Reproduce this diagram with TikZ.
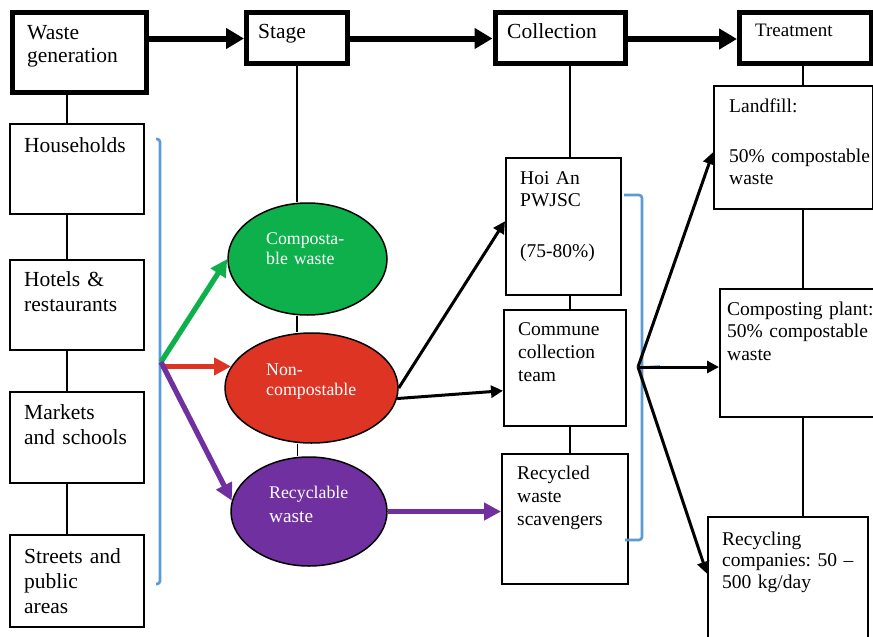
\documentclass[tikz,border=0pt]{standalone}
\usepackage{fontspec}
\setmainfont{Liberation Serif}
\usetikzlibrary{arrows.meta,shapes.geometric}
\definecolor{cgreen}{HTML}{0DB04B}
\definecolor{cred}{HTML}{DE3424}
\definecolor{cpurple}{HTML}{7030A0}
\definecolor{cblue}{HTML}{5B9BD5}
\frenchspacing
\begin{document}
\begin{tikzpicture}[x=1pt,y=-1pt,
  hbox/.style={draw, line width=5pt, inner sep=0pt, anchor=north west},
  tbox/.style={draw, line width=1.5pt, inner sep=0pt, anchor=north west},
  lbl/.style={anchor=base west, inner sep=0pt, align=left, text width=200pt},
  big/.style={font=\fontsize{21.5}{25}\selectfont},
  mid/.style={font=\fontsize{19.5}{22.5}\selectfont},
  elltxt/.style={text=white, font=\fontsize{17.8}{20}\selectfont},
  ell/.style={ellipse, draw, line width=1.5pt, inner sep=0pt},
  link/.style={line width=1.5pt},
  toparrow/.style={line width=6pt, -{Triangle[length=18pt,width=20pt]}},
  colarrow/.style={line width=5.2pt, -{Triangle[length=17pt,width=17pt]}},
  blkarrow/.style={line width=3pt, -{Triangle[length=12pt,width=12pt]}},
  brk/.style={cblue, line width=2.6pt, rounded corners=3pt}]
\useasboundingbox (0,0) rectangle (873,637);
\clip (0,0) rectangle (873,637);

% header boxes
\node[hbox, minimum width=133.5pt, minimum height=80pt] (wg) at (10,10) {};
\node[hbox, minimum width=101pt, minimum height=51pt] (stage) at (244,10) {};
\node[hbox, minimum width=130.5pt, minimum height=51pt] (coll) at (492.5,10) {};
\node[hbox, minimum width=132pt, minimum height=51pt] (treat) at (737,10) {};

% left column
\node[tbox, minimum width=134pt, minimum height=90pt] (hh) at (9,123) {};
\node[tbox, minimum width=134pt, minimum height=90pt] (hotel) at (9,259) {};
\node[tbox, minimum width=134pt, minimum height=91pt] (mkt) at (9,391) {};
\node[tbox, minimum width=134pt, minimum height=92pt] (street) at (9,534) {};

% ellipses
\node[ell, fill=cgreen, minimum width=159pt, minimum height=112pt] (comp) at (307.5,259) {};
\node[ell, fill=cred, minimum width=173pt, minimum height=110pt] (noncomp) at (311.5,388) {};
\node[ell, fill=cpurple, minimum width=156pt, minimum height=109pt] (recy) at (309,511.5) {};

% collection column
\node[tbox, minimum width=115pt, minimum height=137pt] (hoian) at (505,157) {};
\node[tbox, minimum width=122pt, minimum height=116pt] (commune) at (503,309) {};
\node[tbox, minimum width=126pt, minimum height=130pt] (scav) at (501,453) {};

% treatment column
\node[tbox, minimum width=159pt, minimum height=123pt] (landfill) at (713,85) {};
\node[tbox, minimum width=161pt, minimum height=128pt] (cplant) at (719,288) {};
\node[tbox, minimum width=160pt, minimum height=129pt] (recyc) at (707,516) {};

% vertical links
\draw[link] (67,0 |- wg.south) -- (67,0 |- hh.north);
\draw[link] (67,0 |- hh.south) -- (67,0 |- hotel.north);
\draw[link] (67,0 |- hotel.south) -- (67,0 |- mkt.north);
\draw[link] (67,0 |- mkt.south) -- (67,0 |- street.north);
\draw[link] (297,0 |- stage.south) -- (297,0 |- comp.north);
\draw[link] (297,0 |- comp.south) -- (297,0 |- noncomp.north);
\draw[link] (297.5,0 |- noncomp.south) -- (297.5,0 |- recy.north);
\draw[link] (570,0 |- coll.south) -- (570,0 |- hoian.north);
\draw[link] (570,0 |- hoian.south) -- (570,0 |- commune.north);
\draw[link] (570,0 |- commune.south) -- (570,0 |- scav.north);
\draw[link] (803,0 |- treat.south) -- (803,0 |- landfill.north);
\draw[link] (803,0 |- landfill.south) -- (803,0 |- cplant.north);
\draw[link] (803,0 |- cplant.south) -- (803,0 |- recyc.north);

% brackets
\draw[brk] (156,139) -- (160,139) -- (160,584) -- (156,584);
\draw[brk] (624,195) -- (642,195) -- (642,540) -- (625,540);
\draw[cblue, line width=2.6pt] (642,367.5) -- (660,366.5);

% top arrows
\draw[toparrow] (wg.east |- 0,38.5) -- (stage.west |- 0,38.5);
\draw[toparrow] (stage.east |- 0,38.5) -- (coll.west |- 0,38.5);
\draw[toparrow] (coll.east |- 0,39) -- (treat.west |- 0,39);

% coloured arrows
\coordinate (lb) at (161,362);
\coordinate (rb) at (638,367);
\draw[colarrow, cgreen] (lb) -- (comp.west);
\draw[colarrow, cred] (lb |- noncomp.165) -- (noncomp.165);
\draw[colarrow, cpurple] (lb) -- (recy.172);
\draw[colarrow, cpurple] (recy.east) -- (recy.east -| scav.west);

% black arrows
\draw[blkarrow] (noncomp.east) -- ([yshift=5pt]hoian.west);
\draw[blkarrow] (noncomp.-7) -- ([yshift=-23pt]commune.west);
\draw[blkarrow] (rb) -- ([yshift=-5pt]landfill.west);
\draw[blkarrow] (rb) -- (rb -| cplant.west);
\draw[blkarrow] (rb) -- ([yshift=7.5pt]recyc.west);

% texts
\node[lbl, font=\fontsize{21.5}{23.5}\selectfont] (t-wg) at (27,39) {Waste\\generation};
\node[lbl, big] (t-stage) at (258,38) {Stage};
\node[lbl, big] (t-coll) at (507,38) {Collection};
\node[lbl, font=\fontsize{19}{22}\selectfont] (t-treat) at (755,36) {Treatment};

\node[lbl, big] (t-hh) at (24,152) {Households};
\node[lbl, big] (t-hotel) at (24,286) {Hotels \&\\restaurants};
\node[lbl, big] (t-mkt) at (24,419) {Markets\\and schools};
\node[lbl, big] (t-street) at (24,563) {Streets and\\public\\areas};

\node[lbl, elltxt] (t-comp) at (266,244) {Composta-\\ble waste};
\node[lbl, elltxt] (t-noncomp) at (266,375) {Non-\\compostable};
\node[lbl, elltxt, font=\fontsize{17.8}{24}\selectfont] (t-recy) at (269,498) {Recyclable\\{\fontsize{19.3}{24}\selectfont waste}};

\node[lbl, font=\fontsize{19.5}{22}\selectfont] (t-hoian) at (520,184) {Hoi An\\PWJSC\\[29pt](75-80\%)};
\node[lbl, font=\fontsize{19.5}{23}\selectfont] (t-commune) at (518,335) {Commune\\collection\\team};
\node[lbl, font=\fontsize{19.5}{23}\selectfont] (t-scav) at (517,479) {Recycled\\waste\\scavengers};

\node[lbl, font=\fontsize{19.5}{22}\selectfont] (t-landfill) at (729,112) {Landfill:\\[28pt]50\% compostable\\waste};
\node[lbl, mid] (t-cplant) at (727,315) {Composting plant:\\50\% compostable\\waste};
\node[lbl, font=\fontsize{19.5}{21.5}\selectfont] (t-recyc) at (722,545) {Recycling\\companies: 50 –\\500 kg/day};
\end{tikzpicture}
\end{document}
